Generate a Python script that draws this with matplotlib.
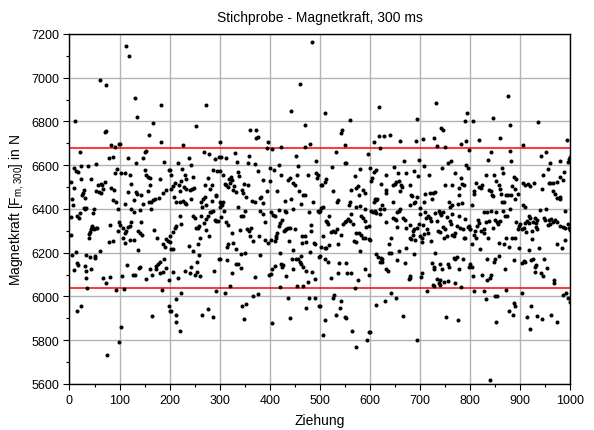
import matplotlib.pyplot as plt
from matplotlib.ticker import MultipleLocator

plt.rcParams['font.family'] = ['Liberation Sans', 'DejaVu Sans']

# Ziehung (draw number) and Magnetkraft in N per 100 draws
ziehung = [
    # 0 - 100
    60, 73, 11, 70, 73, 83, 90, 99, 21, 78, 87, 9, 12, 17, 23, 37, 53, 90, 95,
    3, 22, 9, 43, 57, 63, 70, 28, 27, 25, 52, 59, 63, 67, 65, 83, 88,
    5, 7, 31, 30, 87, 93, 97, 3, 15, 19, 21, 28, 33, 47, 49,
    45, 44, 42, 40, 39, 38, 49, 52, 55, 80, 99, 97, 78, 87, 3,
    12, 5, 15, 17, 8, 33, 41, 50, 51, 61, 30, 33, 42, 32, 67, 73, 81,
    35, 92, 15, 23, 98, 75,
    # 100 - 200
    112, 119, 130, 183, 135, 167, 158, 182, 101, 152, 150, 117, 133, 147, 189,
    103, 110, 120, 153, 157, 160, 150, 180, 198, 123, 117, 132, 135, 143,
    161, 157, 147, 163, 167, 159, 171, 179, 187, 193, 128, 110, 123, 128, 141,
    163, 100, 107, 110, 113, 117, 120, 123, 107, 110, 121, 128, 137, 140, 143,
    145, 137, 168, 175, 187, 190, 193, 197, 105, 109, 115, 127, 130, 139, 141,
    152, 161, 165, 172, 173, 177, 180, 181, 187, 189, 193, 199, 185, 165, 199,
    103,
    # 200 - 300
    273, 253, 227, 268, 279, 299, 239, 243, 217, 290, 201, 203, 225, 230, 233,
    210, 207, 203, 219, 223, 228, 232, 221, 241, 245, 248, 247, 287, 295, 277,
    270, 280, 285, 292, 208, 213, 220, 227, 230, 233, 243, 267, 270, 263, 285,
    293, 265, 273, 213, 210, 207, 221, 223, 200, 200, 203, 207, 247, 250, 253,
    257, 259, 263, 268, 273, 277, 280, 283, 287, 290, 293, 297, 272, 279, 260,
    257, 247, 239, 259, 299, 217, 207, 230, 240, 243, 250, 255, 255, 260, 288,
    223, 213, 200, 203, 212, 212, 221, 265, 277, 287, 293,
    # 300 - 400
    360, 373, 373, 377, 301, 397, 395, 303, 312, 330, 335, 359, 357, 370, 300,
    307, 319, 323, 325, 321, 337, 339, 327, 332, 328, 310, 313, 317, 345, 347,
    349, 357, 353, 365, 370, 380, 383, 387, 377, 387, 395, 300, 303, 305, 301,
    307, 308, 303, 337, 343, 347, 350, 312, 317, 325, 340, 355, 359, 363, 361,
    367, 380, 387, 390, 390, 379, 397, 317, 315, 327, 333, 343, 350, 300, 315,
    325, 333, 337, 343, 380, 371, 399, 310, 321, 367, 377, 345, 352, 349,
    # 400 - 500
    485, 460, 443, 470, 405, 423, 470, 480, 401, 408, 418, 423, 452, 457, 455,
    477, 492, 493, 497, 495, 437, 440, 447, 450, 400, 415, 459, 467, 471, 430,
    443, 462, 487, 419, 430, 433, 447, 479, 497, 499, 407, 410, 425, 403, 431,
    428, 433, 437, 441, 415, 413, 403, 410, 412, 420, 418, 450, 465, 470, 465,
    473, 483, 483, 488, 490, 439, 447, 420, 463, 481, 499, 423, 427, 425, 433,
    447, 445, 453, 457, 460, 463, 467, 473, 485, 490, 403, 410, 405, 455, 467,
    477, 421, 437, 479, 490, 472, 499, 440, 405,
    # 500 - 600
    510, 560, 545, 543, 550, 533, 597, 550, 553, 525, 512, 510, 505, 503, 570,
    581, 527, 537, 535, 563, 573, 577, 579, 587, 590, 560, 559, 572, 581, 590,
    500, 503, 507, 512, 515, 517, 519, 550, 552, 557, 560, 563, 567, 583, 587,
    590, 593, 599, 523, 527, 530, 535, 543, 547, 573, 579, 583, 587, 590, 599,
    507, 513, 510, 503, 519, 568, 573, 580, 537, 500, 510, 517, 539, 553, 555,
    563, 537, 523, 577, 590, 599, 570, 500, 528, 527, 543, 540, 532, 550, 552,
    510, 565, 507, 572, 595, 599,
    # 600 - 700
    618, 693, 619, 628, 641, 661, 692, 608, 621, 668, 697, 601, 608, 612, 648,
    687, 633, 673, 657, 695, 605, 603, 623, 647, 650, 653, 659, 663, 665, 679,
    632, 633, 660, 681, 683, 690, 687, 610, 612, 615, 608, 625, 647, 679, 693,
    603, 607, 610, 613, 620, 628, 621, 655, 659, 661, 699, 633, 647, 650, 653,
    667, 670, 679, 673, 685, 688, 697, 693, 655, 600, 685, 680, 681, 690, 699,
    643, 639, 639, 643, 659, 673, 688, 613, 617, 623, 625, 621, 625, 655, 632,
    637, 670, 677, 680, 679, 642, 653, 630, 612, 667, 600, 693,
    # 700 - 800
    732, 793, 790, 741, 745, 705, 727, 791, 781, 733, 749, 797, 707, 755, 761,
    743, 769, 792, 795, 717, 781, 783, 787, 750, 763, 777, 710, 719, 725, 730,
    723, 708, 757, 763, 759, 775, 777, 783, 700, 710, 715, 712, 719, 721, 705,
    730, 737, 739, 741, 745, 753, 759, 761, 763, 707, 703, 703, 713, 715, 721,
    733, 735, 739, 745, 750, 747, 753, 763, 767, 770, 773, 779, 785, 787, 790,
    795, 799, 777, 790, 797, 730, 723, 728, 727, 739, 743, 755, 757, 767, 773,
    770, 777, 785, 797, 703, 701, 733, 740, 725, 728, 747, 755, 770, 737, 739,
    782, 713, 752, 775,
    # 800 - 900
    875, 880, 845, 805, 859, 817, 842, 835, 880, 881, 863, 865, 847, 832, 887,
    892, 852, 857, 812, 817, 823, 821, 807, 808, 837, 841, 843, 845, 860, 861,
    867, 863, 872, 875, 883, 890, 881, 803, 890, 895, 828, 833, 841, 852, 865,
    870, 873, 879, 892, 897, 895, 899, 815, 817, 821, 827, 828, 813, 810, 808,
    812, 803, 819, 832, 837, 849, 853, 855, 859, 835, 857, 867, 872, 877, 883,
    890, 897, 800, 845, 833, 847, 849, 858, 888, 870, 803, 800, 805, 823, 839,
    842, 833, 808, 828, 832, 850, 853, 872, 888, 889, 877, 885, 852, 839,
    # 900 - 1000
    935, 993, 905, 942, 951, 960, 980, 995, 997, 999, 955, 945, 979, 973, 985,
    988, 905, 910, 915, 920, 928, 957, 960, 965, 943, 965, 970, 973, 979, 980,
    905, 910, 940, 952, 990, 917, 920, 913, 918, 925, 930, 933, 932, 910, 947,
    950, 957, 961, 965, 969, 960, 973, 979, 985, 990, 997, 999, 995, 903, 907,
    912, 923, 932, 933, 955, 923, 917, 937, 973, 983, 990, 903, 907, 910, 921,
    925, 930, 932, 947, 941, 945, 953, 930, 967, 968, 903, 921, 933, 943, 913,
    920, 961, 973, 985, 992, 995, 1000,
]

kraft = [
    # 0 - 100
    6988, 6966, 6800, 6752, 6754, 6692, 6685, 6695, 6662, 6634, 6639, 6585, 6572, 6569, 6597, 6597, 6603, 6566, 6582,
    6523, 6536, 6496, 6536, 6511, 6516, 6523, 6488, 6474, 6462, 6480, 6477, 6474, 6489, 6508, 6496, 6485,
    6443, 6416, 6449, 6400, 6439, 6431, 6400, 6362, 6369, 6357, 6382, 6403, 6405, 6382, 6400,
    6323, 6316, 6308, 6296, 6285, 6265, 6308, 6311, 6312, 6326, 6342, 6300, 6250, 6251, 6280,
    6205, 6188, 6154, 6143, 6120, 6188, 6182, 6185, 6176, 6208, 6139, 6116, 6126, 6085, 6085, 6062, 6088,
    6039, 6027, 5931, 5954, 5793, 5731,
    # 100 - 200
    7146, 7097, 6905, 6877, 6819, 6792, 6739, 6708, 6695, 6665, 6659, 6634, 6612, 6631, 6616,
    6562, 6562, 6557, 6554, 6546, 6542, 6577, 6536, 6577, 6516, 6477, 6477, 6469, 6465,
    6508, 6480, 6423, 6431, 6439, 6431, 6446, 6449, 6474, 6485, 6439, 6423, 6400, 6388, 6397,
    6400, 6326, 6311, 6289, 6300, 6316, 6323, 6342, 6269, 6246, 6259, 6259, 6300, 6289, 6342,
    6280, 6213, 6305, 6269, 6239, 6228, 6262, 6251, 6093, 6034, 6143, 6096, 6100, 6131, 6136,
    6080, 6126, 6096, 6139, 6126, 6149, 6157, 6108, 6111, 6170, 6131, 6074, 6031, 5911, 5957,
    5862,
    # 200 - 300
    6877, 6777, 6692, 6659, 6649, 6639, 6631, 6600, 6608, 6628, 6577, 6557, 6582, 6554, 6536,
    6520, 6505, 6492, 6511, 6526, 6500, 6489, 6480, 6485, 6492, 6496, 6546, 6577, 6572, 6539,
    6508, 6489, 6508, 6459, 6454, 6431, 6431, 6434, 6428, 6423, 6443, 6443, 6454, 6431, 6434,
    6462, 6408, 6416, 6323, 6311, 6296, 6369, 6331, 6277, 6250, 6216, 6216, 6366, 6357, 6311,
    6311, 6323, 6366, 6336, 6354, 6366, 6385, 6388, 6392, 6351, 6346, 6346, 6305, 6274, 6265,
    6239, 6208, 6231, 6190, 6173, 6082, 6113, 6114, 6105, 6136, 6096, 6113, 6157, 6093, 6116,
    6016, 5990, 5931, 5931, 5916, 5885, 5843, 5914, 5942, 5908, 6023,
    # 300 - 400
    6759, 6762, 6723, 6728, 6708, 6708, 6677, 6639, 6631, 6657, 6616, 6642, 6608, 6603, 6572,
    6557, 6536, 6546, 6531, 6520, 6569, 6551, 6485, 6477, 6505, 6516, 6508, 6500, 6485, 6474,
    6516, 6508, 6454, 6434, 6431, 6449, 6454, 6428, 6572, 6531, 6480, 6431, 6423, 6416, 6408,
    6431, 6392, 6362, 6408, 6369, 6369, 6392, 6339, 6326, 6289, 6305, 6308, 6300, 6311, 6274,
    6254, 6392, 6377, 6342, 6259, 6277, 6246, 6239, 6228, 6246, 6216, 6193, 6200, 6173, 6166,
    6108, 6146, 6146, 6131, 6188, 6088, 6100, 6016, 6046, 6003, 6013, 5954, 5966, 5896,
    # 400 - 500
    7165, 6972, 6849, 6782, 6674, 6685, 6685, 6695, 6585, 6577, 6600, 6554, 6643, 6597, 6557,
    6557, 6619, 6562, 6554, 6539, 6531, 6539, 6520, 6508, 6526, 6482, 6480, 6465, 6465, 6434,
    6443, 6423, 6431, 6396, 6392, 6388, 6400, 6388, 6392, 6388, 6372, 6369, 6349, 6385, 6305,
    6300, 6308, 6311, 6311, 6292, 6277, 6259, 6254, 6269, 6336, 6323, 6308, 6277, 6277, 6246,
    6250, 6326, 6300, 6246, 6239, 6251, 6213, 6197, 6185, 6203, 6180, 6146, 6142, 6136, 6093,
    6126, 6170, 6173, 6170, 6159, 6146, 6136, 6116, 6111, 6080, 6103, 6139, 6123, 6046, 6049,
    6065, 6043, 5993, 5993, 5993, 5946, 5954, 5900, 5877,
    # 500 - 600
    6839, 6808, 6762, 6746, 6692, 6662, 6649, 6608, 6612, 6592, 6536, 6523, 6511, 6508, 6551,
    6582, 6480, 6439, 6431, 6485, 6496, 6505, 6462, 6485, 6474, 6431, 6418, 6408, 6413, 6400,
    6392, 6403, 6408, 6346, 6339, 6331, 6366, 6339, 6346, 6354, 6346, 6377, 6331, 6366, 6357,
    6346, 6316, 6320, 6296, 6300, 6296, 6308, 6280, 6331, 6292, 6289, 6280, 6269, 6265, 6262,
    6277, 6219, 6223, 6228, 6234, 6254, 6250, 6208, 6239, 6185, 6170, 6157, 6154, 6151, 6108,
    6108, 6108, 6085, 6077, 6123, 6096, 6039, 5957, 6008, 5993, 5977, 5946, 5916, 5908, 5900,
    5893, 5843, 5823, 5770, 5800, 5839,
    # 600 - 700
    6865, 6812, 6731, 6731, 6736, 6711, 6711, 6705, 6677, 6620, 6623, 6588, 6569, 6577, 6592,
    6572, 6557, 6562, 6566, 6551, 6539, 6526, 6516, 6511, 6516, 6523, 6526, 6511, 6500, 6511,
    6485, 6474, 6480, 6465, 6459, 6431, 6428, 6446, 6439, 6446, 6431, 6419, 6431, 6419, 6454,
    6392, 6385, 6392, 6380, 6400, 6400, 6377, 6388, 6392, 6400, 6377, 6342, 6357, 6354, 6351,
    6357, 6351, 6326, 6311, 6300, 6308, 6331, 6311, 6316, 6259, 6280, 6269, 6262, 6259, 6274,
    6265, 6239, 6197, 6197, 6208, 6223, 6193, 6193, 6182, 6177, 6170, 6157, 6157, 6166, 6123,
    6116, 6154, 6080, 6086, 6093, 6016, 5993, 5977, 5959, 5911, 5839, 5800,
    # 700 - 800
    6885, 6839, 6800, 6772, 6762, 6720, 6723, 6711, 6695, 6689, 6685, 6669, 6597, 6612, 6619,
    6588, 6562, 6600, 6588, 6554, 6539, 6516, 6508, 6511, 6508, 6496, 6469, 6474, 6474, 6477,
    6443, 6431, 6431, 6418, 6408, 6423, 6462, 6428, 6403, 6385, 6366, 6357, 6357, 6346, 6326,
    6382, 6392, 6382, 6374, 6388, 6362, 6346, 6331, 6377, 6285, 6269, 6250, 6308, 6289, 6254,
    6346, 6300, 6296, 6316, 6308, 6265, 6274, 6280, 6274, 6289, 6323, 6311, 6308, 6269, 6265,
    6316, 6308, 6366, 6354, 6323, 6197, 6154, 6136, 6123, 6146, 6126, 6146, 6136, 6177, 6182,
    6173, 6126, 6173, 6136, 6108, 6089, 6080, 6074, 6054, 6049, 6065, 6070, 6062, 6062, 6054,
    6043, 6023, 5905, 5890,
    # 800 - 900
    6915, 6785, 6815, 6800, 6723, 6715, 6662, 6623, 6665, 6619, 6585, 6562, 6554, 6554, 6546,
    6536, 6526, 6511, 6520, 6500, 6511, 6496, 6480, 6469, 6485, 6480, 6462, 6459, 6492, 6469,
    6431, 6431, 6462, 6465, 6505, 6492, 6465, 6418, 6446, 6469, 6388, 6388, 6392, 6388, 6392,
    6369, 6366, 6400, 6342, 6323, 6308, 6331, 6351, 6336, 6300, 6289, 6308, 6323, 6300, 6280,
    6265, 6239, 6216, 6339, 6346, 6351, 6339, 6331, 6346, 6265, 6246, 6239, 6265, 6228, 6265,
    6265, 6223, 6308, 6311, 6173, 6157, 6173, 6185, 6166, 6126, 6136, 6146, 6093, 6100, 6085,
    6100, 6077, 6023, 6023, 5988, 6000, 6000, 6028, 5969, 5957, 5931, 5916, 5885, 5616,
    # 900 - 1000
    6797, 6715, 6692, 6643, 6662, 6612, 6619, 6616, 6628, 6639, 6582, 6554, 6546, 6523, 6531,
    6569, 6520, 6508, 6516, 6505, 6520, 6520, 6520, 6520, 6492, 6480, 6469, 6449, 6443, 6454,
    6418, 6408, 6397, 6400, 6392, 6369, 6357, 6346, 6336, 6342, 6357, 6351, 6336, 6336, 6357,
    6351, 6351, 6354, 6342, 6351, 6331, 6339, 6320, 6316, 6311, 6311, 6305, 6331, 6308, 6311,
    6296, 6300, 6316, 6308, 6326, 6262, 6213, 6219, 6239, 6223, 6259, 6154, 6162, 6157, 6166,
    6173, 6136, 6142, 6170, 6105, 6093, 6131, 6111, 6074, 6062, 6016, 5957, 5911, 5896, 5905,
    5851, 5916, 5885, 6008, 6016, 5993, 5974,
]

GRENZE_OBEN  = 6678   # red reference lines
GRENZE_UNTEN = 6040


def main():
    fig = plt.figure(figsize=(5.94, 4.31), dpi=100)
    ax = fig.add_axes([0.117, 0.107, 0.843, 0.812])

    ax.set_xlim(0, 1000)
    ax.set_ylim(5600, 7200)

    ax.xaxis.set_major_locator(MultipleLocator(100))
    ax.xaxis.set_minor_locator(MultipleLocator(50))
    ax.yaxis.set_major_locator(MultipleLocator(200))
    ax.yaxis.set_minor_locator(MultipleLocator(100))
    ax.tick_params(which='both', direction='out', labelsize=9, width=0.8)
    ax.tick_params(which='major', length=4)
    ax.tick_params(which='minor', length=2.5)

    ax.grid(True, which='major', color='#b4b4b4', linewidth=1.0, zorder=0)
    ax.set_axisbelow(True)

    ax.axhline(GRENZE_OBEN, color='red', linewidth=1.1, zorder=2)
    ax.axhline(GRENZE_UNTEN, color='red', linewidth=1.1, zorder=2)

    ax.plot(ziehung, kraft, 'o', color='black', markersize=2.9,
            markeredgewidth=0, zorder=3)

    for side in ax.spines.values():
        side.set_linewidth(1.0)

    ax.set_title('Stichprobe - Magnetkraft, 300 ms', fontsize=10, pad=9)
    ax.set_xlabel('Ziehung', fontsize=10, labelpad=5)
    ax.set_ylabel('Magnetkraft [F$_{\\mathregular{m,300}}$] in N', fontsize=10)

    fig.savefig('out.png', dpi=100)


if __name__ == "__main__":
    main()
